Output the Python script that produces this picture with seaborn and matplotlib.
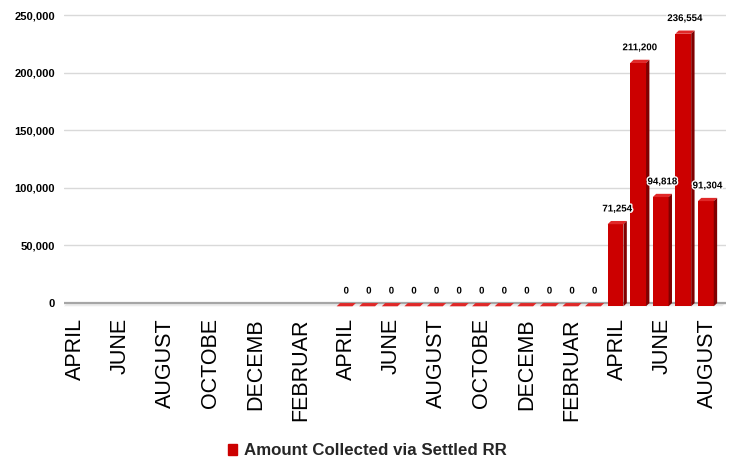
import numpy as np
import pandas as pd
import matplotlib
matplotlib.use("Agg")
import matplotlib.pyplot as plt
import matplotlib.patheffects as pe
from matplotlib.patches import Polygon, Patch
from matplotlib.ticker import FuncFormatter
import seaborn as sns

# 29 consecutive months, April of year 1 through August of year 3
months = ["APRIL", "MAY", "JUNE", "JULY", "AUGUST", "SEPTEMBER", "OCTOBER",
          "NOVEMBER", "DECEMBER", "JANUARY", "FEBRUARY", "MARCH"]
period_months = (months * 3)[:29]
amount = [np.nan] * 12 + [0] * 12 + [71254, 211200, 94818, 236554, 91304]
tick_labels = ["APRIL", "JUNE", "AUGUST", "OCTOBE", "DECEMB", "FEBRUAR"] * 2 + ["APRIL", "JUNE", "AUGUST"]
series_name = "Amount Collected via Settled RR"

df = pd.DataFrame({"idx": range(len(amount)), "month": period_months, "amount": amount})

sns.set_theme(style="white")
plt.rcParams["font.family"] = ["Liberation Sans", "DejaVu Sans"]

fig = plt.figure(figsize=(7.43, 4.63), dpi=100)
ax = fig.add_axes([0.0861, 0.328, 0.8905, 0.642])

front = "#CC0000"
side = "#800000"
top = "#E02828"
dx, dy = 0.15, 2800  # fake 3d depth

sns.barplot(data=df.dropna(), x="idx", y="amount", order=list(range(len(amount))),
            color=front, saturation=1, width=0.7, errorbar=None, ax=ax, zorder=3)

ax.set_xlim(-0.5, 28.8)
ax.set_ylim(-7000, 251000)

# floor strip
x_lo, x_hi = ax.get_xlim()
ax.add_patch(Polygon([(x_lo, -dy), (x_hi - dx, -dy), (x_hi, 0), (x_lo + dx, 0)],
                     closed=True, color="#EBEBEB", zorder=1, lw=0))

# 3d faces on each bar
for p in list(ax.patches):
    if p.get_facecolor()[:3] != matplotlib.colors.to_rgb(front):
        continue
    x0, w, v = p.get_x() - dx / 2, p.get_width(), p.get_height()
    p.set_x(x0)
    p.set_y(-dy)
    p.set_linewidth(0)
    ax.add_patch(Polygon([(x0, v - dy), (x0 + w, v - dy), (x0 + w + dx, v), (x0 + dx, v)],
                         closed=True, color=top, lw=0, zorder=3))
    ax.add_patch(Polygon([(x0 + w, -dy), (x0 + w + dx, 0), (x0 + w + dx, v), (x0 + w, v - dy)],
                         closed=True, color=side, lw=0, zorder=3))

# value labels
for i, v in enumerate(amount):
    if np.isnan(v):
        continue
    ax.annotate(f"{v:,.0f}", (i, v), xytext=(0, 9), textcoords="offset points",
                ha="center", va="center", fontsize=7, fontweight="bold", color="black",
                zorder=5, path_effects=[pe.withStroke(linewidth=2, foreground="white")])

ax.set_yticks(range(0, 250001, 50000))
ax.yaxis.set_major_formatter(FuncFormatter(lambda val, pos: f"{val:,.0f}"))
ax.grid(axis="y", color="#D9D9D9", lw=1)
ax.grid(axis="x", visible=False)
ax.set_axisbelow(True)
ax.axhline(0, color="#A6A6A6", lw=1.6, zorder=2)

ax.set_xticks(range(0, len(amount), 2))
ax.set_xticklabels(tick_labels, rotation=90, fontsize=15.5)
for lab in ax.get_yticklabels():
    lab.set_fontweight("bold")
    lab.set_fontsize(8)
ax.tick_params(axis="y", length=0, pad=6.5, colors="black")
ax.tick_params(axis="x", length=0, pad=5, colors="black")
ax.set_xlabel("")
ax.set_ylabel("")
sns.despine(ax=ax, left=True, bottom=True)

fig.legend(handles=[Patch(color=front, label=series_name)], loc="center",
           bbox_to_anchor=(0.495, 0.026), frameon=False, handlelength=0.5, handleheight=0.7,
           handletextpad=0.45, prop={"weight": "bold", "size": 12.2})

fig.savefig("out.png", dpi=100)
